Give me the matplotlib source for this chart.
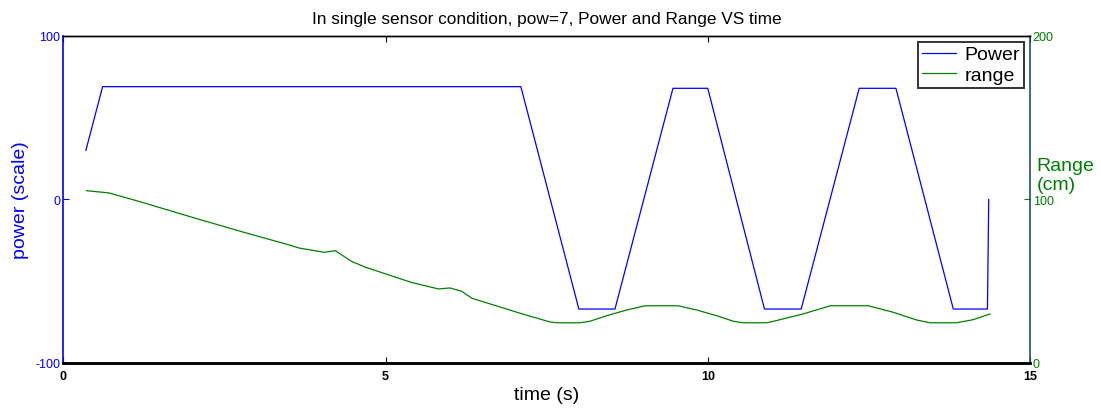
import matplotlib
matplotlib.use('Agg')
import matplotlib.pyplot as plt

plt.rcParams['font.family'] = ['Liberation Sans', 'DejaVu Sans']
plt.rcParams['axes.unicode_minus'] = False

# ── Data ─────────────────────────────────────────────────────────────
power_t = [0.35, 0.61, 7.10, 8.00, 8.56, 9.46, 10.00, 10.88, 11.45,
           12.35, 12.92, 13.81, 14.34, 14.36]
power_v = [30, 69, 69, -67, -67, 68, 68, -67, -67, 68, 68, -67, -67, 0]

range_t = [0.36, 0.71, 1.22, 2.00, 2.77, 3.55, 3.66, 4.05, 4.22, 4.47,
           4.68, 5.40, 5.82, 6.00, 6.18, 6.34, 7.09, 7.55, 7.66, 8.02,
           8.17, 8.43, 8.74, 9.03, 9.54, 9.83, 10.14, 10.40, 10.55,
           10.91, 11.02, 11.48, 11.90, 12.49, 12.88, 13.24, 13.45,
           13.86, 14.12, 14.38]
range_v = [105.4, 104.0, 98.3, 89.1, 80.3, 71.7, 70.3, 67.7, 68.7, 62.2,
           58.7, 49.3, 45.3, 45.9, 43.9, 39.6, 30.4, 25.1, 24.6, 24.6,
           25.5, 28.9, 32.4, 35.0, 35.0, 32.4, 28.9, 25.5, 24.6,
           24.6, 25.5, 30.0, 35.0, 35.0, 31.0, 26.3, 24.6,
           24.6, 26.5, 30.0]

x_ticks = [0, 5, 10, 15]
left_ticks = [-100, 0, 100]
right_ticks = [0, 100, 200]

blue = "#0000ff"
green = "#008000"

fig = plt.figure(figsize=(11.01, 4.10), dpi=100)
ax1 = fig.add_axes([0.0575, 0.1122, 0.878, 0.7976])
ax2 = ax1.twinx()

l1, = ax1.plot(power_t, power_v, color=blue, linewidth=0.9, label="Power")
l2, = ax2.plot(range_t, range_v, color=green, linewidth=0.9, label="range")

ax1.set_xlim(0, 15)
ax1.set_ylim(-100, 100)
ax2.set_ylim(0, 200)
ax1.set_xticks(x_ticks)
ax1.set_yticks(left_ticks)
ax2.set_yticks(right_ticks)

ax1.tick_params(axis="x", direction="in", top=True, length=4, width=0.8,
                labelsize=9, pad=5)
for lab in ax1.get_xticklabels():
    lab.set_fontweight("bold")
ax1.tick_params(axis="y", direction="in", colors=blue, length=4,
                labelsize=9, pad=2)
ax2.tick_params(axis="y", direction="in", colors=green, length=4,
                labelsize=9, pad=2)

ax1.spines["left"].set_color(blue)
ax2.spines["left"].set_visible(False)
ax1.spines["right"].set_visible(False)
ax2.spines["right"].set_color("#1f4f5f")
for ax in (ax1, ax2):
    ax.spines["bottom"].set_linewidth(1.8)
    ax.spines["top"].set_linewidth(1.0)
    ax.spines["left"].set_linewidth(1.2)
    ax.spines["right"].set_linewidth(1.2)

ax1.set_xlabel("time (s)", fontsize=14, labelpad=3)
ax1.set_ylabel("power (scale)", fontsize=14, color=blue)
ax1.yaxis.set_label_coords(-0.036, 0.5)
ax2.set_ylabel("Range\n(cm)", fontsize=14, color=green, rotation=0,
               ha="left", va="center", linespacing=1.1)
ax2.yaxis.set_label_coords(1.007, 0.575)
ax1.set_title("In single sensor condition, pow=7, Power and Range VS time",
              fontsize=12.4, pad=9)

leg = ax2.legend([l1, l2], ["Power", "range"], loc="upper right",
                 fontsize=14, frameon=True, fancybox=False,
                 borderaxespad=0.3, handlelength=1.75, handletextpad=0.45,
                 borderpad=0.2, labelspacing=0.15)
leg.get_frame().set_edgecolor("black")
leg.get_frame().set_linewidth(1.4)

fig.savefig("out.png", dpi=100)
